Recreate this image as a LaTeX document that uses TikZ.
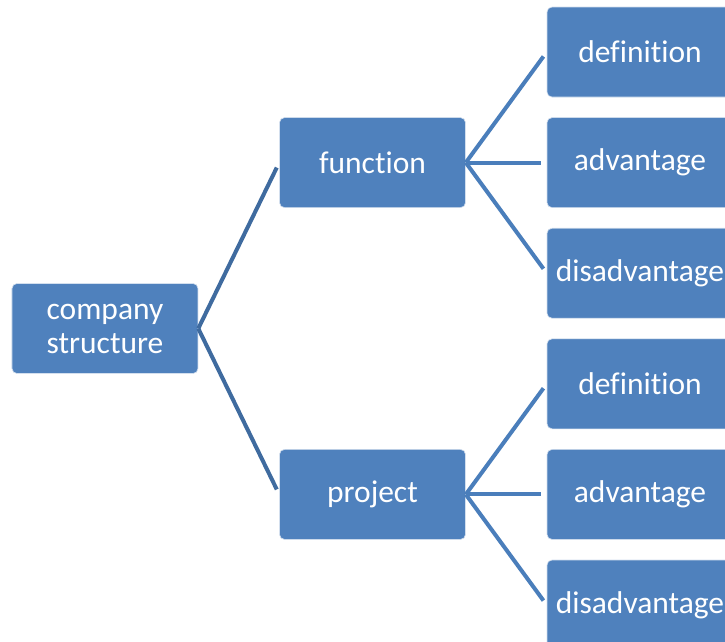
\documentclass[tikz,border=0pt]{standalone}
\usepackage{fontspec}
\setmainfont{Carlito}[Ligatures=NoCommon]
\usepackage{tikz-qtree}

\definecolor{boxblue}{HTML}{4F81BD}
\definecolor{linkdark}{HTML}{3F6B9F}
\definecolor{linkblue}{HTML}{4A7EBB}

\tikzset{
	every tree node/.style={draw=white!75!boxblue, line width=0.6pt, fill=boxblue, rounded corners=5pt,
		minimum width=186pt, minimum height=90pt, text=white, align=center, anchor=center,
		font=\fontsize{31.5}{34}\selectfont},
	grow'=right, level distance=267.5pt, sibling distance=20pt,
	edge from parent/.style={draw=linkblue, line width=4pt, shorten >=5.5pt,
		edge from parent path={(\tikzparentnode.east) -- (\tikzchildnode.west)}},
	toplink/.style={draw=linkdark}
}

\begin{document}
\begin{tikzpicture}
	\path[use as bounding box, fill=white] (-105pt,-313.5pt) rectangle (620pt,328.5pt);
	\Tree
	[.\node(cs){company\\structure};
		\edge[toplink]; [.\node(fn){function};
			\node(fdef){definition};
			\node(fadv){advantage};
			\node(fdis){disadvantage};
		]
		\edge[toplink]; [.\node(pj){project};
			\node(pdef){definition};
			\node(padv){advantage};
			\node(pdis){disadvantage};
		]
	]
\end{tikzpicture}
\end{document}
